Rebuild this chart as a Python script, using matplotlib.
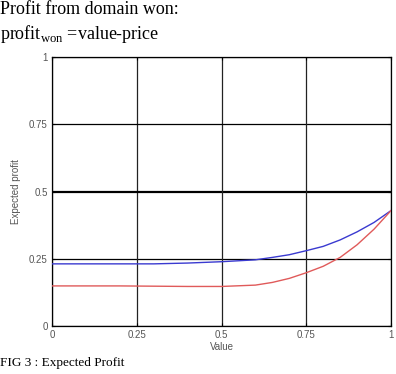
import matplotlib
matplotlib.use("Agg")
import matplotlib.pyplot as plt

value = [0, 0.1, 0.2, 0.3, 0.4, 0.5, 0.6, 0.65, 0.7, 0.75, 0.8, 0.85, 0.9, 0.95, 1.0]
profit_blue = [0.231, 0.231, 0.231, 0.231, 0.234, 0.239, 0.246, 0.255, 0.265, 0.280, 0.296, 0.320, 0.350, 0.385, 0.429]
profit_red = [0.149, 0.149, 0.149, 0.148, 0.147, 0.147, 0.152, 0.162, 0.177, 0.198, 0.222, 0.255, 0.302, 0.360, 0.429]
ticks = [0, 0.25, 0.5, 0.75, 1]
tick_labels = ["0", "0.25", "0.5", "0.75", "1"]

plt.rcParams['mathtext.fontset'] = 'custom'
plt.rcParams['mathtext.rm'] = 'Liberation Serif'
plt.rcParams['font.family'] = 'Liberation Sans'

W, H = 396, 374
fig = plt.figure(figsize=(W / 100, H / 100), dpi=100)
ax = fig.add_axes([52 / W, (H - 326) / H, (391 - 52) / W, (326 - 57) / H])

for t in ticks:
    lw = 1.6 if t == 0.5 else 0.9
    ax.axhline(t, color='black', lw=lw, zorder=1)
    ax.axvline(t, color='#222222', lw=0.9, zorder=1)

ax.plot(value, profit_blue, color='#3a3ad0', lw=1.0, zorder=3)
ax.plot(value, profit_red, color='#e05a5a', lw=1.0, zorder=3)

ax.set_xlim(0, 1)
ax.set_ylim(0, 1)
ax.set_xticks(ticks)
ax.set_yticks(ticks)
ax.set_xticklabels(tick_labels)
ax.set_yticklabels(tick_labels)
ax.tick_params(direction='in', length=2, width=0.8, labelsize=7, labelcolor='#555555',
               top=True, right=True, pad=3)
for s in ax.spines.values():
    s.set_color('black')
    s.set_linewidth(0.9)
ax.set_xlabel("Value", fontsize=7, color='#555555', labelpad=1)
ax.set_ylabel("Expected profit", fontsize=7, color='#555555', labelpad=6)

fig.text(0, 1 - 1 / H, "Profit from domain won:", family='Liberation Serif',
         fontsize=13, va='top', ha='left')
fig.text(0, 1 - 23 / H, r"profit$_{\mathrm{won}}$ =value-price", family='Liberation Serif',
         fontsize=13, va='top', ha='left')
fig.text(0, 1 - 363 / H, "FIG 3 : Expected Profit", family='Liberation Serif',
         fontsize=9.5, va='center', ha='left')

fig.savefig("out.png", dpi=100, facecolor='white')
